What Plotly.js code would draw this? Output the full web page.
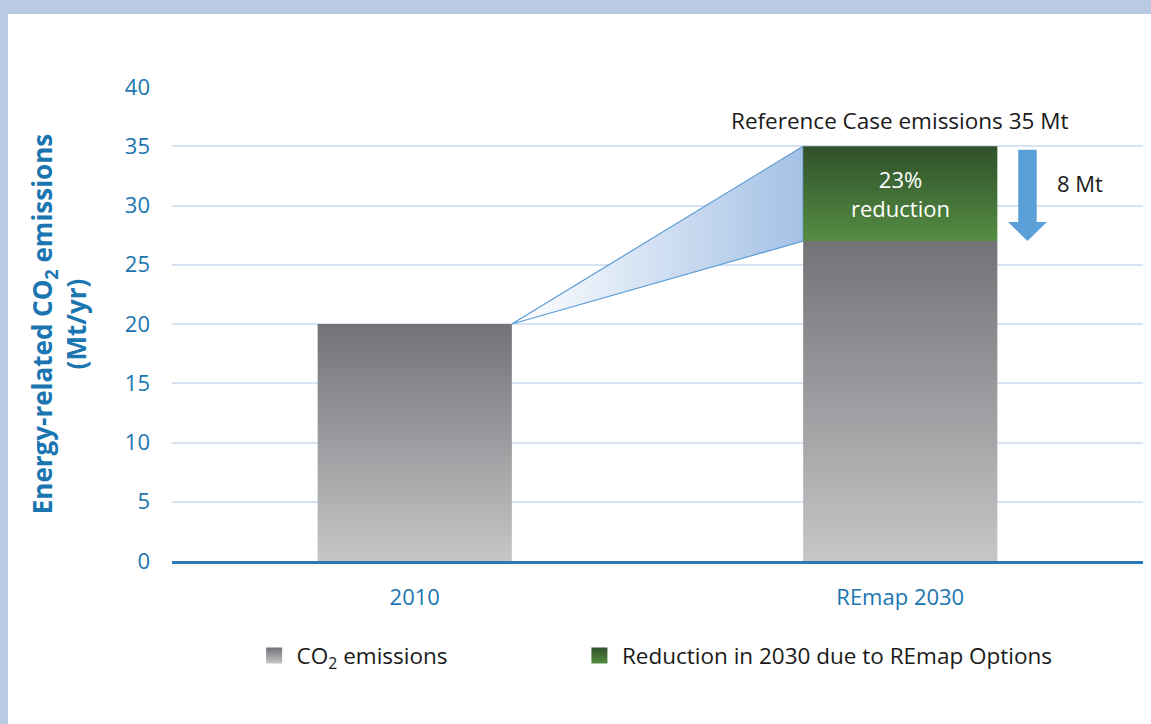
<!DOCTYPE html>
<html>
<head>
<meta charset="utf-8">
<script src="https://cdn.plot.ly/plotly-3.0.1.min.js"></script>
<style>
  html, body { margin: 0; padding: 0; background: #b8cbe3; width: 1151px; height: 724px; overflow: hidden; }
  #chart { position: absolute; left: 8px; top: 14px; width: 1143px; height: 710px; background: #ffffff; }
</style>
</head>
<body>
<div id="chart"></div>
<script>
// ---- data ----
const categories = ['2010', 'REmap 2030'];
const co2Emissions = [20, 27];          // Mt/yr, grey bars
const reduction = [0, 8];               // Mt/yr, green segment (REmap Options)
const referenceCase2030 = 35;           // Mt
const reductionPct = 23;                // %
const yTicks = [0, 5, 10, 15, 20, 25, 30, 35, 40];
const legendNames = ['CO<sub>2</sub> emissions', 'Reduction in 2030 due to REmap Options'];

// ---- style ----
const halfW = 0.2;
const blue = '#1a75b0';
const greyScale = [[0, '#c6c6c8'], [1, '#737277']];
const greenScale = [[0, '#548d43'], [1, '#30502a']];
const fontFam = '"Open Sans", Roboto, sans-serif';

const traces = [];

// wedge from 2010 top to the 2030 reduction segment
const top2030 = co2Emissions[1] + reduction[1];
traces.push({
  type: 'scatter', mode: 'lines',
  x: [0 + halfW, 1 - halfW, 1 - halfW, 0 + halfW],
  y: [co2Emissions[0], top2030, co2Emissions[1], co2Emissions[0]],
  fill: 'toself',
  fillgradient: { type: 'horizontal', colorscale: [[0, '#ffffff'], [1, '#a4c1e5']] },
  line: { color: '#5b9bd5', width: 1.2 },
  showlegend: false, hoverinfo: 'skip'
});

// grey bars
categories.forEach((c, i) => {
  const v = co2Emissions[i];
  traces.push({
    type: 'scatter', mode: 'none',
    x: [i - halfW, i + halfW, i + halfW, i - halfW, i - halfW],
    y: [0, 0, v, v, 0],
    fill: 'toself',
    fillgradient: { type: 'vertical', colorscale: greyScale },
    showlegend: false, hoverinfo: 'skip'
  });
});

// green reduction segments
categories.forEach((c, i) => {
  if (reduction[i] <= 0) return;
  const b = co2Emissions[i], t = co2Emissions[i] + reduction[i];
  traces.push({
    type: 'scatter', mode: 'none',
    x: [i - halfW, i + halfW, i + halfW, i - halfW, i - halfW],
    y: [b, b, t, t, b],
    fill: 'toself',
    fillgradient: { type: 'vertical', colorscale: greenScale },
    showlegend: false, hoverinfo: 'skip'
  });
});

// legend entries (two separate legends for exact placement)
traces.push({
  type: 'scatter', mode: 'markers', x: [null], y: [null], name: legendNames[0],
  marker: { symbol: 'square', size: 16, color: '#737277', line: { width: 0 },
            gradient: { type: 'vertical', color: '#c6c6c8' } },
  showlegend: true, legend: 'legend', hoverinfo: 'skip'
});
traces.push({
  type: 'scatter', mode: 'markers', x: [null], y: [null], name: legendNames[1],
  marker: { symbol: 'square', size: 16, color: '#30502a', line: { width: 0 },
            gradient: { type: 'vertical', color: '#548d43' } },
  showlegend: true, legend: 'legend2', hoverinfo: 'skip'
});

// arrow (reference case top down to REmap level)
const ax = 1 + halfW + 0.062, sw = 0.019, hw = 0.04;
const aTop = referenceCase2030 - 0.3, aTip = co2Emissions[1], aHead = aTip + 1.6;
const arrowPath = `M${ax - sw},${aTop} L${ax + sw},${aTop} L${ax + sw},${aHead} L${ax + hw},${aHead} L${ax},${aTip} L${ax - hw},${aHead} L${ax - sw},${aHead} Z`;

const legendFont = { family: fontFam, size: 22.5, color: '#1a1a1a' };

const layout = {
  width: 1143, height: 710,
  paper_bgcolor: '#ffffff', plot_bgcolor: '#ffffff',
  margin: { l: 164, r: 8, t: 73, b: 163 },
  font: { family: fontFam, size: 20, color: '#1a1a1a' },
  hovermode: false,
  xaxis: {
    range: [-0.5, 1.5], tickmode: 'array', tickvals: [0, 1], ticktext: categories,
    showgrid: false, zeroline: false, showline: true, linecolor: '#2a7ab8', linewidth: 2.5,
    ticks: '', ticklabelstandoff: 15,
    tickfont: { family: fontFam, size: 22, color: blue }, fixedrange: true
  },
  yaxis: {
    range: [0, 40], tickmode: 'array', tickvals: yTicks,
    showgrid: true, gridcolor: '#d5e3f2', gridwidth: 2, zeroline: false,
    ticks: '', ticklabelstandoff: 21,
    tickfont: { family: fontFam, size: 22, color: blue },
    title: { text: '<b>Energy-related CO<sub>2</sub> emissions<br>(Mt/yr)</b>', standoff: 30,
             font: { family: fontFam, size: 26, color: blue } },
    fixedrange: true
  },
  legend: {
    orientation: 'h', x: 0.082, xanchor: 'left', y: -0.155, yanchor: 'top',
    font: legendFont, bgcolor: 'rgba(0,0,0,0)', itemwidth: 35
  },
  legend2: {
    orientation: 'h', x: 0.417, xanchor: 'left', y: -0.155, yanchor: 'top',
    font: legendFont, bgcolor: 'rgba(0,0,0,0)', itemwidth: 35
  },
  shapes: [{
    type: 'path', xref: 'x', yref: 'y', path: arrowPath,
    fillcolor: '#5b9fd8', line: { width: 0 }
  }],
  annotations: [
    { x: 1, y: referenceCase2030 + 2.15, xref: 'x', yref: 'y', showarrow: false,
      text: 'Reference Case emissions ' + referenceCase2030 + ' Mt',
      font: { family: fontFam, size: 22.5, color: '#1a1a1a' } },
    { x: 1, y: co2Emissions[1] + reduction[1] / 2, xref: 'x', yref: 'y', showarrow: false,
      text: reductionPct + '%<br>reduction',
      font: { family: fontFam, size: 22, color: '#ffffff' } },
    { x: 1.37, y: referenceCase2030 - 3.1, xref: 'x', yref: 'y', showarrow: false,
      text: reduction[1] + ' Mt',
      font: { family: fontFam, size: 22, color: '#1a1a1a' } }
  ]
};

Plotly.newPlot('chart', traces, layout, { staticPlot: true, displayModeBar: false });
</script>
</body>
</html>
